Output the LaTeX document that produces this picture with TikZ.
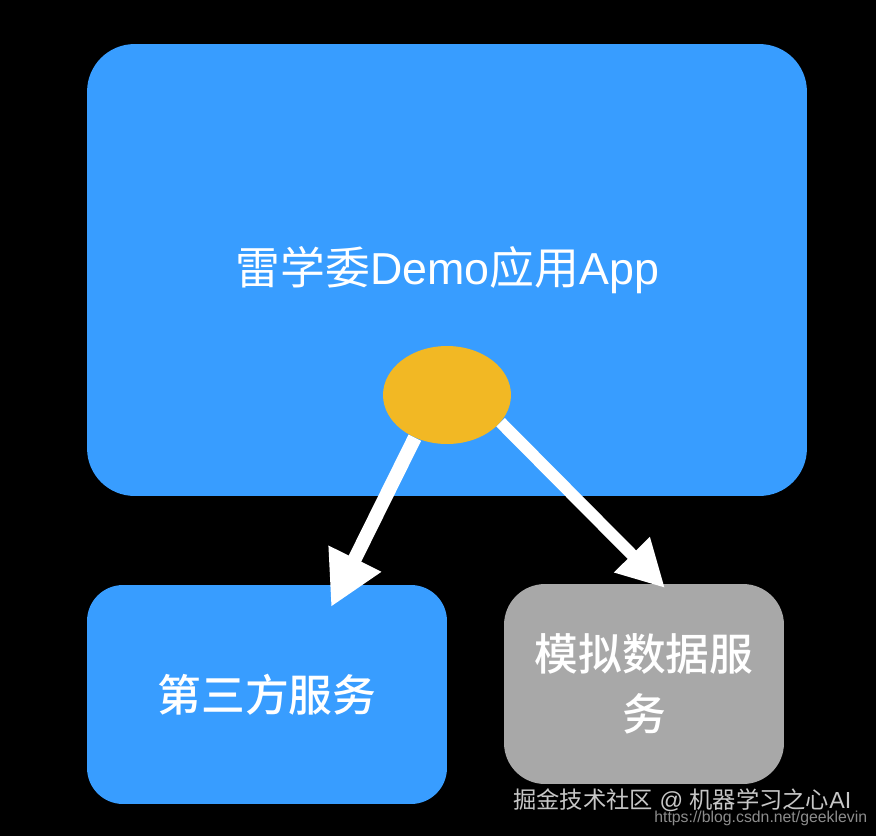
\documentclass[tikz,border=0pt]{standalone}
\usepackage{xcolor}
\usepackage{fontspec}
\setmainfont{Liberation Sans}
\newfontfamily\cjk{Noto Sans CJK SC}
\newfontfamily\cjkmed{Noto Sans CJK SC Medium}
\usetikzlibrary{arrows.meta,shapes.geometric,positioning}

\definecolor{appblue}{HTML}{389DFF}
\definecolor{slotyellow}{HTML}{F2B824}
\definecolor{mockgray}{HTML}{A8A8A8}

\tikzset{
    panel/.style={draw=none,text=white,align=center,inner sep=0pt},
    flow/.style={draw=white},
    stamp/.style={text=#1,inner sep=0pt,anchor=west}
}

\begin{document}
\begin{tikzpicture}[x=0.02cm,y=-0.02cm]
    \useasboundingbox (0,0) rectangle (876,836);
    \fill[black] (0,0) rectangle (876,836);

    %boxes
    \node[panel,fill=appblue,minimum width=14.4cm,minimum height=9.04cm,rounded corners=0.95cm] (app) at (447,270) {};
    \node[panel,fill=appblue,minimum width=7.2cm,minimum height=4.38cm,rounded corners=0.72cm,font=\fontsize{24.9}{30}\selectfont] (third) at (267,694.5) {\cjkmed 第三方服务};
    \node[panel,fill=mockgray,minimum width=5.6cm,minimum height=4cm,rounded corners=0.82cm,text width=5.6cm,font=\fontsize{24.9}{34}\selectfont] (mock) at (644,684) {\cjkmed 模拟数据服\\务};
    \node[draw=none,text=white,inner sep=0pt,font=\fontsize{25.5}{30}\selectfont] (applabel) at (447.5,270) {{\cjk 雷学委}Demo{\cjk 应用}App};

    %caller
    \node[ellipse,fill=slotyellow,draw=none,minimum width=2.56cm,minimum height=1.96cm,inner sep=0pt] (slot) at (447,395) {};

    %arrows
    \coordinate (thirdtip) at (331,607);
    \coordinate (mocktip) at (665,588);
    \draw[flow,line width=0.28cm,-{Triangle[length=1.08cm,width=1.1cm]}] (slot.-127)--(thirdtip);
    \draw[flow,line width=0.24cm,-{Triangle[length=0.94cm,width=0.94cm]}] (slot.-27)--(mocktip);

    %watermarks
    \node[stamp=white!78!black,font=\fontsize{13.25}{16}\selectfont] (stamp1) at (513,800) {{\cjk 掘金技术社区} @ {\cjk 机器学习之心}AI};
    \node[stamp=white!55!black,font=\fontsize{9}{12}\selectfont] (stamp2) at (654,818) {https://blog.csdn.net/geeklevin};
\end{tikzpicture}
\end{document}
